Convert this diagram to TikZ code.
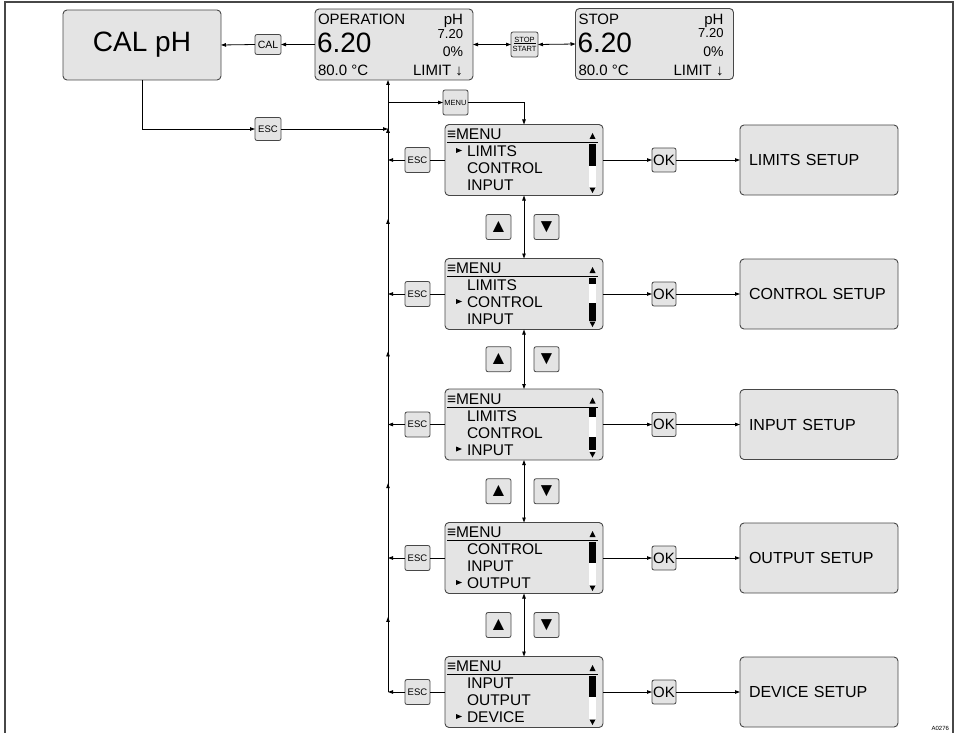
\documentclass[tikz,border=0pt]{standalone}
\usepackage{fontspec}
\setmainfont{Liberation Sans}
\usepackage{xcolor}
\usetikzlibrary{arrows.meta,positioning,calc,decorations.markings}
\definecolor{lcdgray}{HTML}{E4E4E4}
\definecolor{rim}{HTML}{474747}
\newcommand\pxf[1]{\fontsize{#1}{#1}\selectfont}

\begin{document}
\begin{tikzpicture}[x=1pt,y=-1pt,
  screen/.style={draw=rim,fill=lcdgray,line width=0.9pt,rounded corners=4pt,inner sep=0pt,outer sep=0pt,minimum width=158pt,minimum height=71pt},
  key/.style={draw=rim,fill=lcdgray,line width=0.8pt,rounded corners=2pt,inner sep=0pt,outer sep=0pt,minimum width=25pt,minimum height=25pt,font=\pxf{9.5}},
  setup/.style={screen,minimum height=70pt,text width=140pt,inner sep=9pt,align=left,font=\pxf{16}},
  txt/.style={inner sep=0pt,outer sep=0pt},
  arr/.style={-{Triangle[length=5pt,width=3.5pt]},line width=0.8pt},
  arrs/.style={{Triangle[length=5pt,width=3.5pt]}-{Triangle[length=5pt,width=3.5pt]},line width=0.8pt},
  midarr/.style={line width=0.8pt,postaction={decorate},decoration={markings,mark=at position 0.56 with {\arrow{Triangle[length=5pt,width=3.5pt]}}}}]
\useasboundingbox (0,0) rectangle (956,733);
\draw[rim,line width=1.2pt] (5,733) -- (5,2) -- (953,2) -- (953,733);
\coordinate (bmenu) at (388,102.5);

% top row
\node[screen,minimum height=70pt,font=\pxf{28}] (calph) at (142,45) {CAL pH};
\node[key,minimum width=26pt,minimum height=20pt,font=\pxf{10.5}] (cal) at (268,44.5) {CAL};
\node[screen] (oper) at (394,44.5) {};
\node[key,minimum width=27pt,align=center,font=\pxf{7.5}] (ststart) at (524.5,44.5) {STOP\\[1pt]START};
\node[screen] (stop) at (654.5,44) {};
\draw[line width=0.6pt] ($(ststart.center)+(-11,-1)$) -- ($(ststart.center)+(11,-1)$);
\foreach \s/\t in {oper/OPERATION,stop/STOP} {
  \node[txt,anchor=base west,font=\pxf{15}] (\s-mode) at ($(\s.north west)+(3,16)$) {\t};
  \node[txt,anchor=base east,font=\pxf{15}] (\s-unit) at ($(\s.north east)+(-10,16)$) {pH};
  \node[txt,anchor=base east,font=\pxf{13}] (\s-set) at ($(\s.north east)+(-10,29.5)$) {7.20};
  \node[txt,anchor=base west,font=\pxf{28}] (\s-val) at ($(\s.north west)+(2,44)$) {6.20};
  \node[txt,anchor=base east,font=\pxf{14}] (\s-out) at ($(\s.north east)+(-10,48)$) {0\%};
  \node[txt,anchor=base west,font=\pxf{15}] (\s-temp) at ($(\s.north west)+(3,67)$) {80.0 °C};
  \node[txt,anchor=base east,font=\pxf{15}] (\s-lim) at ($(\s.north east)+(-10,67)$) {LIMIT ↓};
}
\draw[arr] (oper.west) -- (cal.east);
\draw[arr] (cal.west) -- (calph.east);
\draw[arrs] (oper.east) -- (ststart.west);
\draw[arrs] (ststart.east) -- (stop.west);

% menu screens
\foreach \m/\y in {m1/160,m2/294,m3/424.5,m4/558,m5/692}
  \node[screen] (\m) at (524,\y) {};
\foreach \m/\a/\b/\c/\p/\set in {m1/LIMITS/CONTROL/INPUT/32/LIMITS SETUP,
    m2/LIMITS/CONTROL/INPUT/49/CONTROL SETUP,
    m3/LIMITS/CONTROL/INPUT/66/INPUT SETUP,
    m4/CONTROL/INPUT/OUTPUT/66/OUTPUT SETUP,
    m5/INPUT/OUTPUT/DEVICE/66/DEVICE SETUP} {
  \node[txt,anchor=base west,font=\pxf{15.5}] (\m-title) at ($(\m.north west)+(2,15)$) {≡MENU};
  \draw[line width=0.8pt] ($(\m.north west)+(2,18)$) -- ($(\m.north east)+(-5,18)$);
  \node[txt,anchor=base west,font=\pxf{15.5}] (\m-r1) at ($(\m.north west)+(22,32)$) {\a};
  \node[txt,anchor=base west,font=\pxf{15.5}] (\m-r2) at ($(\m.north west)+(22,49)$) {\b};
  \node[txt,anchor=base west,font=\pxf{15.5}] (\m-r3) at ($(\m.north west)+(22,66)$) {\c};
  \fill ($(\m.north west)+(11,\p-8.5)$) -- ++(6,2.5) -- ++(-6,2.5) -- cycle;
  \fill[white] ($(\m.north east)+(-14,20)$) rectangle ($(\m.north east)+(-7,62)$);
  \fill ($(\m.north east)+(-13.5,14.5)$) -- ++(6,0) -- ++(-3,-6) -- cycle;
  \fill ($(\m.north east)+(-13.5,63)$) -- ++(6,0) -- ++(-3,5.5) -- cycle;
  \node[key] (\m-esc) at ($(\m.west)+(-27.5,0)$) {ESC};
  \node[key,minimum width=24pt,minimum height=24pt,font=\pxf{15}] (\m-ok) at ($(\m.east)+(61,0)$) {OK};
  \node[setup] (\m-set) at ($(\m.east)+(216,0)$) {\set};
  \draw[line width=0.8pt] (\m.west) -- (\m-esc.east);
  \draw[arr] (\m-esc.west) -- (\m-esc.west -| bmenu);
  \draw[arr] (\m.east) -- (\m-ok.west);
  \draw[arr] (\m-ok.east) -- (\m-set.west);
}
% scroll bar position
\foreach \m/\s/\e in {m1/20/42,m2/19/25,m2/44/62,m3/19/28,m3/48/61,m4/19/40,m5/19/40}
  \fill ($(\m.north east)+(-14,\s)$) rectangle ($(\m.north east)+(-7,\e)$);

% up/down keys
\foreach \u/\l in {m1/m2,m2/m3,m3/m4,m4/m5} {
  \coordinate (\u-gap) at ($(\u.south)!0.5!(\l.north)$);
  \node[key,font=\pxf{19}] (\u-up) at ($(\u-gap)+(-25.5,0)$) {▲};
  \node[key,font=\pxf{19}] (\u-dn) at ($(\u-gap)+(22.5,0)$) {▼};
  \draw[arrs] (\u.south) -- (\l.north);
}

% return line
\node[key,font=\pxf{7.5}] (menu) at (455.5,102.5) {MENU};
\node[key,minimum width=26pt,minimum height=23pt] (calesc) at (268,129) {ESC};
\draw[midarr] (m5.west -| bmenu) -- (m4.west -| bmenu);
\draw[midarr] (m4.west -| bmenu) -- (m3.west -| bmenu);
\draw[midarr] (m3.west -| bmenu) -- (m2.west -| bmenu);
\draw[midarr] (m2.west -| bmenu) -- (m1.west -| bmenu);
\draw[midarr] (m1.west -| bmenu) -- (bmenu);
\draw[arr] (bmenu) -- (bmenu |- oper.south);
\draw[arr] (bmenu) -- (menu.west);
\draw[arr] (menu.east) -| (m1.north);
\draw[arr] (calph.south) |- (calesc.west);
\draw[arr] (calesc.east) -- (calesc.east -| bmenu);

\node[txt,anchor=base east,font=\pxf{6}] (code) at (949,730) {A0276};
\end{tikzpicture}
\end{document}
